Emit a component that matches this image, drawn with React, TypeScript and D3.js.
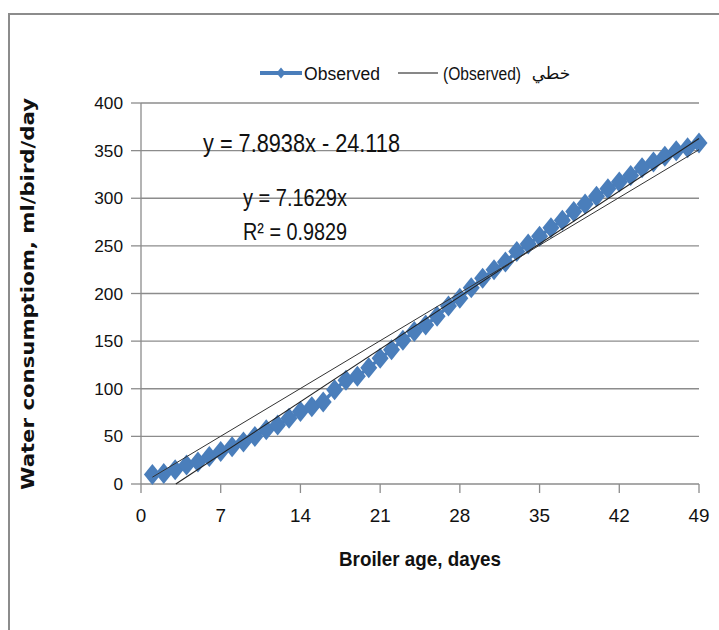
import React from 'react';
import * as d3 from 'd3';

// broiler age (days) and observed water consumption (ml/bird/day)
const days = d3.range(1, 50);
const observed = [
  10, 11, 15, 20, 23, 29, 34,
  39, 44, 50, 57, 62, 69, 76,
  81, 86, 99, 109, 113, 122, 132,
  141, 151, 160, 167, 176, 187, 195,
  206, 216, 225, 233, 244, 252, 260,
  269, 277, 286, 294, 302, 310, 317,
  324, 332, 338, 344, 350, 353, 358,
];
const xTicks = [0, 7, 14, 21, 28, 35, 42, 49];
const yTicks = [0, 50, 100, 150, 200, 250, 300, 350, 400];

// trend lines shown on the chart
const linFit = {slope: 7.8938, intercept: -24.118};
const originFit = {slope: 7.1629};

const W = 719, H = 630;
const sans = '"Liberation Sans", Arial, sans-serif';
const blue = '#4a7ebb';

const T = ({x, y, w, size, anchor = 'start', bold = false, children}: any) => (
  <text x={x} y={y} textAnchor={anchor} fontFamily={sans} fontSize={size} fontWeight={bold ? 'bold' : 'normal'}
        fill="#111" textLength={w} lengthAdjust="spacingAndGlyphs">{children}</text>
);

const App = () => {
  const x = d3.scaleLinear().domain([0, 49]).range([141, 699]);
  const y = d3.scaleLinear().domain([0, 400]).range([484, 103]);

  const pts = days.map((d, i) => ({d, v: observed[i]}));
  const seriesLine = d3.line<any>().x(p => x(p.d)).y(p => y(p.v));
  const diamond = 'M0,-10.5L8.5,0L0,10.5L-8.5,0Z';
  const legendDiamond = 'M0,-5.5L4.5,0L0,5.5L-4.5,0Z';

  const x0 = -linFit.intercept / linFit.slope;
  const x1 = 49;

  return (
    <svg width={W} height={H} style={{position: 'absolute', left: 0, top: 0, background: '#fff'}}>
      <rect x={9} y={14} width={800} height={700} fill="#fff" stroke="#8c8c8c" strokeWidth={2} />

      {/* gridlines */}
      {yTicks.map(t => (
        <line key={'g' + t} x1={x(0)} x2={x(49)} y1={y(t)} y2={y(t)} stroke="#8c8c8c" strokeWidth={1.3} />
      ))}
      {/* y axis */}
      <line x1={x(0)} x2={x(0)} y1={y(0)} y2={y(400)} stroke="#8c8c8c" strokeWidth={1.3} />
      {yTicks.map(t => (
        <g key={'y' + t}>
          <line x1={x(0) - 10} x2={x(0)} y1={y(t)} y2={y(t)} stroke="#8c8c8c" strokeWidth={1.3} />
          <T x={123} y={y(t) + 6} w={String(t).length * 9.6} size={17} anchor="end">{t}</T>
        </g>
      ))}
      {/* x axis ticks */}
      {xTicks.map(t => (
        <g key={'x' + t}>
          <line x1={x(t)} x2={x(t)} y1={y(0)} y2={y(0) + 9} stroke="#8c8c8c" strokeWidth={1.3} />
          <T x={x(t)} y={522} w={String(t).length * 10.5} size={18.5} anchor="middle">{t}</T>
        </g>
      ))}

      {/* series */}
      <path d={seriesLine(pts) as string} fill="none" stroke={blue} strokeWidth={3.5} />
      {pts.map(p => (
        <path key={p.d} d={diamond} transform={`translate(${x(p.d)},${y(p.v)})`} fill={blue} />
      ))}

      {/* trend lines */}
      <line x1={x(x0)} y1={y(0)} x2={x(x1)} y2={y(linFit.slope * x1 + linFit.intercept)} stroke="#222" strokeWidth={1.1} />
      <line x1={x(1)} y1={y(originFit.slope)} x2={x(x1)} y2={y(originFit.slope * x1)} stroke="#333" strokeWidth={1} />

      {/* equations */}
      <T x={203} y={152} w={197} size={25}>y = 7.8938x - 24.118</T>
      <T x={243} y={206} w={104} size={24}>y = 7.1629x</T>
      <T x={243} y={240} w={104} size={24}>R² = 0.9829</T>

      {/* legend */}
      <line x1={260} x2={302} y1={73} y2={73} stroke={blue} strokeWidth={4} />
      <path d={legendDiamond} transform="translate(281,73)" fill={blue} />
      <T x={304} y={79.5} w={76} size={18}>Observed</T>
      <line x1={398} x2={438} y1={73} y2={73} stroke="#111" strokeWidth={1} />
      <T x={443} y={79.5} w={78} size={18}>(Observed)</T>
      <text x={551} y={79} textAnchor="middle" fontFamily={'"DejaVu Sans", sans-serif'} fontSize={17} fill="#111">خطي</text>

      {/* axis titles */}
      <T x={420} y={566} w={162} size={21} anchor="middle" bold>Broiler age, dayes</T>
      <text transform="translate(34,294) rotate(-90)" textAnchor="middle" fontFamily={'"DejaVu Sans", sans-serif'} fontWeight="bold" fontSize={18} fill="#111" textLength={392} lengthAdjust="spacingAndGlyphs">Water consumptiom, ml/bird/day</text>
    </svg>
  );
};

export default App;
